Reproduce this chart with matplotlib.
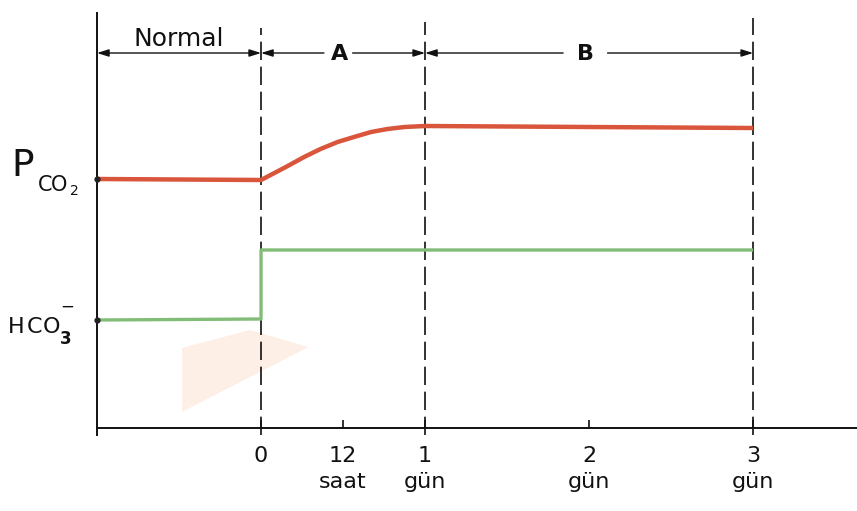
import matplotlib
matplotlib.use("Agg")
import matplotlib.pyplot as plt
from matplotlib.patches import Polygon

# Time axis in hours (negative = normal period before the change)
pco2_t = [-24, 0, 1.4, 3.9, 6.3, 8.7, 11.2, 13.6, 16.1, 18.5, 21.0, 24, 72]
pco2_v = [249, 248, 253, 262, 271, 279, 286, 291, 296, 299, 301, 302, 300]

hco3_t = [-24, 0, 0, 72]
hco3_v = [108, 109, 178, 178]

tick_pos = [0, 12, 24, 48, 72]
tick_labels = ["0", "12\nsaat", "1\ngün", "2\ngün", "3\ngün"]

phase_edges = [-24, 0, 24, 72]
phase_names = ["Normal", "A", "B"]

RED = "#d9553b"
GREEN = "#82bd78"
INK = "#111111"

plt.rcParams["font.family"] = ["DejaVu Sans"]

fig = plt.figure(figsize=(8.57, 5.11), dpi=100)
ax = fig.add_axes([0.1132, 1 - 428 / 511, 1 - 0.1132, 415 / 511])
ax.set_xlim(-24, 87.2)
ax.set_ylim(0, 415)

# faint stain patch
ax.add_patch(Polygon([(0.112, 0.193), (0.201, 0.236), (0.278, 0.195), (0.112, 0.039)],
                     closed=True, transform=ax.transAxes, facecolor="#fdeee6",
                     edgecolor="none", zorder=0))

ax.plot(pco2_t, pco2_v, color=RED, lw=3.2, solid_capstyle="butt",
        solid_joinstyle="round", zorder=3)
ax.plot(hco3_t, hco3_v, color=GREEN, lw=2.4, solid_capstyle="butt", zorder=3)
ax.plot([-24, -24], [pco2_v[0], hco3_v[0]], ls="none", marker="o", ms=3.5,
        color="#222222", zorder=4, clip_on=False)

# dashed phase boundaries
for x, top in zip(phase_edges[1:], [400, 406, 410]):
    ax.plot([x, x], [-7, top], color=INK, lw=1.2, dashes=(11, 4),
            clip_on=False, zorder=2)

# spines
for s in ["top", "right", "left"]:
    ax.spines[s].set_visible(False)
ax.plot([-24, -24], [-7, 415], color=INK, lw=1.4, clip_on=False, zorder=2)
ax.spines["bottom"].set_linewidth(1.4)
ax.spines["bottom"].set_color(INK)
ax.set_yticks([])

ax.set_xticks(tick_pos, tick_labels)
ax.tick_params(axis="x", direction="in", length=6, width=1.2, pad=13,
               labelsize=16, colors=INK)
for lbl in ax.get_xticklabels():
    lbl.set_linespacing(1.4)

# phase arrows
y_arr = 375
head = dict(arrowstyle="-|>,head_length=0.7,head_width=0.22", lw=1.0,
            color=INK, shrinkA=0, shrinkB=0)
ax.annotate("", xy=(phase_edges[0], y_arr), xytext=(phase_edges[1], y_arr),
            arrowprops=dict(arrowstyle="<|-|>,head_length=0.7,head_width=0.22",
                            lw=1.0, color=INK, shrinkA=0, shrinkB=0))
ax.text((phase_edges[0] + phase_edges[1]) / 2, 389, phase_names[0],
        ha="center", va="center", fontsize=18, color=INK)

gaps = [(9.2, 13.4), (44.2, 50.7)]
for (a, b), (g0, g1), name in zip(zip(phase_edges[1:-1], phase_edges[2:]), gaps,
                                  phase_names[1:]):
    ax.annotate("", xy=(a, y_arr), xytext=(g0, y_arr), arrowprops=head)
    ax.annotate("", xy=(b, y_arr), xytext=(g1, y_arr), arrowprops=head)
    ax.text((a + b) / 2 - 0.5, y_arr - 1, name, ha="center", va="center",
            fontsize=16, fontweight="bold", color=INK)


def glyph(px, py, s, size, **kw):
    fig.text(px / 857, 1 - py / 511, s, fontsize=size, color=INK,
             ha="center", va="baseline", **kw)


# P_CO2 label
glyph(23, 176, "P", 27)
glyph(45, 191, "C", 15)
glyph(59, 191, "O", 15)
glyph(74, 195, "2", 10)

# HCO3^- label
glyph(16, 333, "H", 16)
glyph(35, 333, "C", 16)
glyph(52, 333, "O", 16)
glyph(66, 344, "3", 12, fontweight="bold")
glyph(67, 312, "\u2212", 12)

fig.savefig("out.png", dpi=100, facecolor="white")
